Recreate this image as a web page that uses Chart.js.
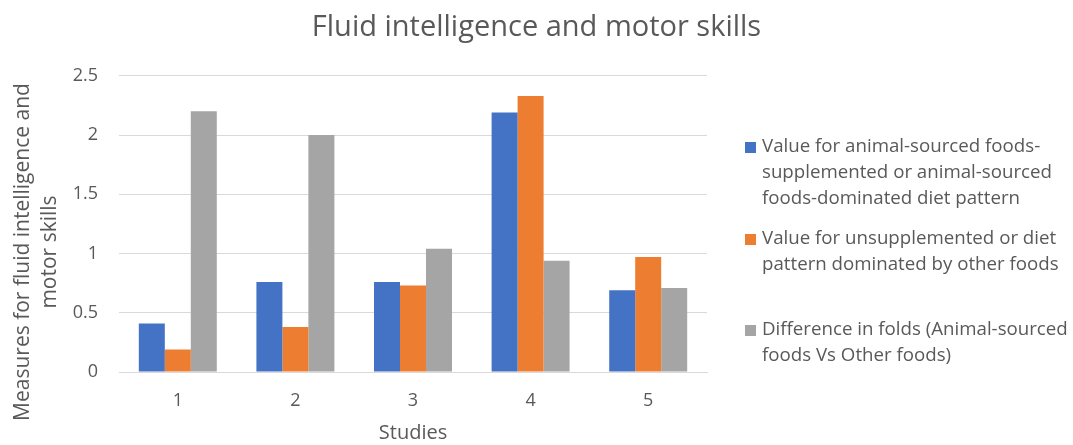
<!DOCTYPE html>
<html>
<head>
<meta charset="utf-8">
<script src="https://cdn.jsdelivr.net/npm/chart.js@4.4.1/dist/chart.umd.min.js"></script>
<style>
  html, body { margin: 0; padding: 0; background: #fff; }
  #wrap { width: 1073px; height: 445px; }
</style>
</head>
<body>
<div id="wrap"><canvas id="c" width="1073" height="445"></canvas></div>
<script>
const chartTitle = 'Fluid intelligence and motor skills';
const xAxisTitle = 'Studies';
const yAxisTitleLines = ['Measures for fluid intelligence and', 'motor skills'];
const categories = ['1', '2', '3', '4', '5'];
const animalValues = [0.41, 0.76, 0.76, 2.19, 0.69];
const otherValues = [0.19, 0.38, 0.73, 2.33, 0.97];
const foldValues = [2.2, 2.0, 1.04, 0.94, 0.71];
const yTickValues = [0, 0.5, 1, 1.5, 2, 2.5];
const seriesNames = [
  'Value for animal-sourced foods-supplemented or animal-sourced foods-dominated diet pattern',
  'Value for unsupplemented or diet pattern dominated by other foods',
  'Difference in folds (Animal-sourced foods Vs Other foods)'
];
const legendLines = [
  ['Value for animal-sourced foods-', 'supplemented or animal-sourced', 'foods-dominated diet pattern'],
  ['Value for unsupplemented or diet', 'pattern dominated by other foods'],
  ['Difference in folds (Animal-sourced', 'foods Vs Other foods)']
];
const colors = ['#4472C4', '#ED7D31', '#A5A5A5'];

const FONT = "'Open Sans', 'Noto Sans', sans-serif";
const TEXT = '#595959';

const customText = {
  id: 'customText',
  afterDraw(chart) {
    const ctx = chart.ctx;
    ctx.save();
    ctx.fillStyle = TEXT;
    ctx.font = '21px ' + FONT;
    ctx.textAlign = 'center';
    ctx.textBaseline = 'middle';
    // y axis title
    const ycY = 252;
    const ycX = [23, 50];
    yAxisTitleLines.forEach((t, i) => {
      ctx.save();
      ctx.translate(ycX[i], ycY);
      ctx.rotate(-Math.PI / 2);
      ctx.fillText(t, 0, 0);
      ctx.restore();
    });
    // legend
    ctx.font = '18.7px ' + FONT;
    const starts = [147, 239, 330];
    const lineH = 26;
    ctx.textAlign = 'left';
    chart.data.datasets.forEach((ds, i) => {
      ctx.fillStyle = ds.backgroundColor;
      ctx.fillRect(745, starts[i] - 5, 11, 11);
      ctx.fillStyle = TEXT;
      legendLines[i].forEach((line, j) => {
        ctx.fillText(line, 762, starts[i] + j * lineH);
      });
    });
    ctx.restore();
  }
};

new Chart(document.getElementById('c'), {
  type: 'bar',
  data: {
    labels: categories,
    datasets: [
      { label: seriesNames[0], data: animalValues, backgroundColor: colors[0] },
      { label: seriesNames[1], data: otherValues, backgroundColor: colors[1] },
      { label: seriesNames[2], data: foldValues, backgroundColor: colors[2] }
    ]
  },
  options: {
    responsive: false,
    animation: false,
    devicePixelRatio: 1,
    layout: { padding: 0 },
    datasets: { bar: { categoryPercentage: 0.663, barPercentage: 1.0 } },
    plugins: {
      legend: { display: false },
      tooltip: { enabled: false },
      title: {
        display: true,
        text: chartTitle,
        color: TEXT,
        font: { family: FONT, size: 29, weight: 'normal' },
        padding: { top: 10, bottom: 31 }
      }
    },
    scales: {
      x: {
        grid: { display: false, drawTicks: false },
        border: { display: true, color: '#d9d9d9', width: 1 },
        ticks: { color: TEXT, font: { family: FONT, size: 18 }, padding: 18 },
        title: { display: true, text: xAxisTitle, color: TEXT, font: { family: FONT, size: 20 }, padding: { top: 0, bottom: 0 } },
        afterFit(scale) { scale.height = 73; }
      },
      y: {
        min: 0, max: 2.5,
        afterBuildTicks(scale) { scale.ticks = yTickValues.map(v => ({ value: v })); },
        grid: { color: '#d9d9d9', lineWidth: 1, drawTicks: false },
        border: { display: false },
        ticks: { color: TEXT, font: { family: FONT, size: 18 }, padding: 21,
                 callback: v => String(v) },
        afterFit(scale) { scale.width = 119; }
      },
      legendSpace: {
        type: 'linear',
        position: 'right',
        display: true,
        grid: { display: false, drawTicks: false },
        border: { display: false },
        ticks: { display: false },
        afterFit(scale) { scale.width = 366; }
      }
    }
  },
  plugins: [customText]
});
</script>
</body>
</html>
